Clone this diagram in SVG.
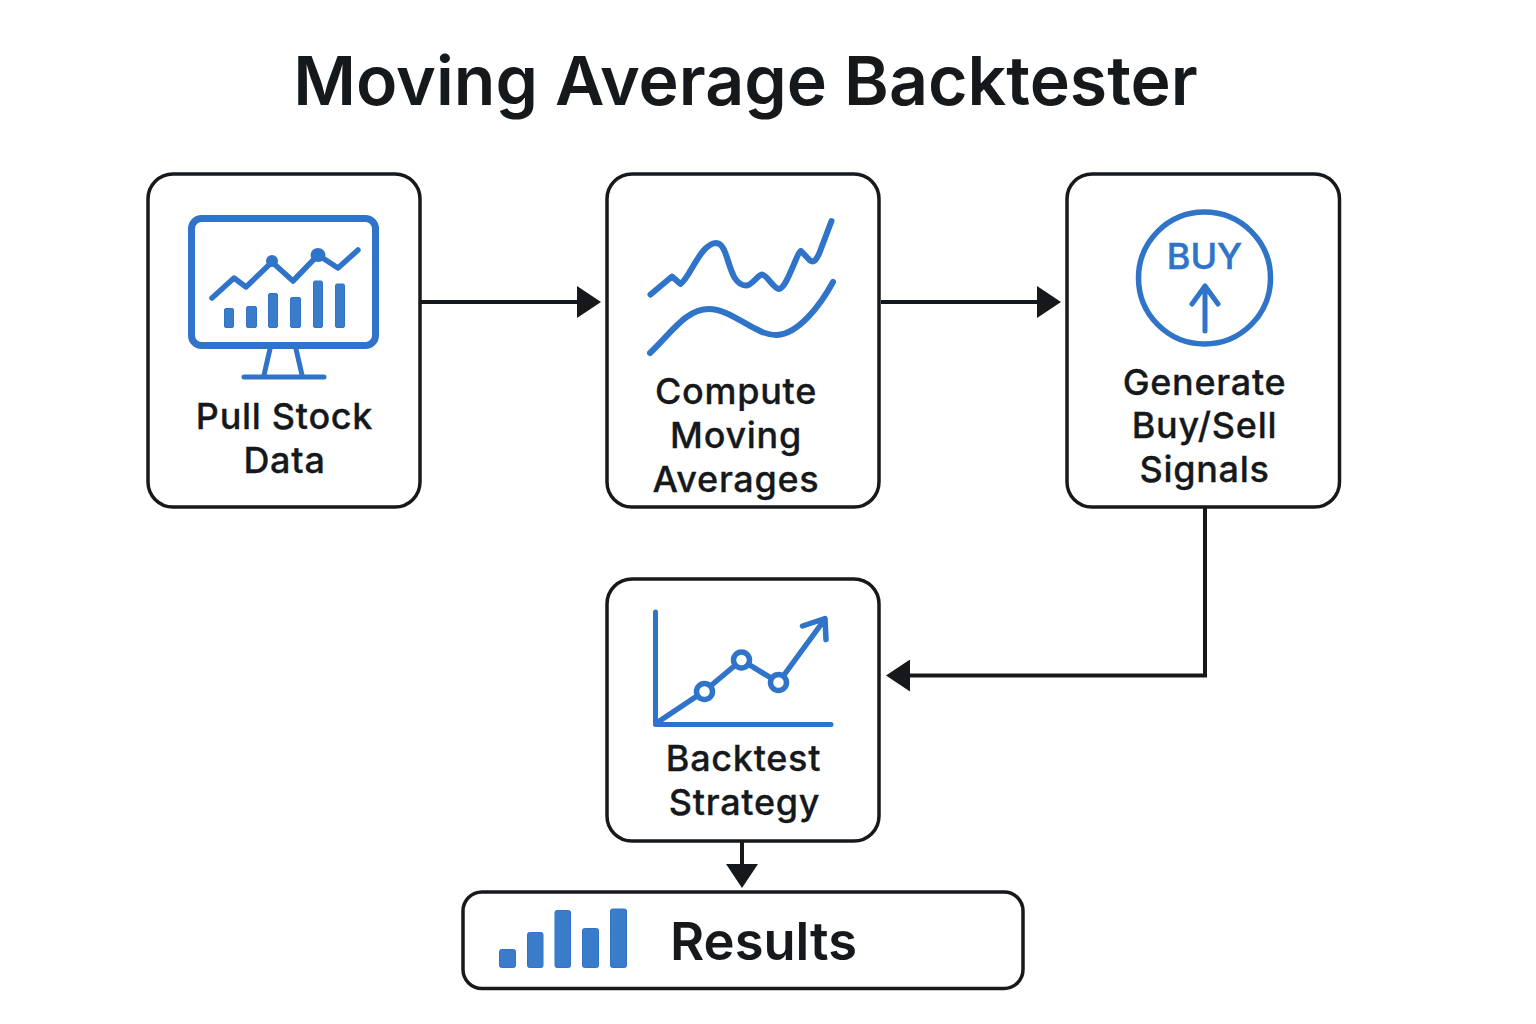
<svg xmlns="http://www.w3.org/2000/svg" width="1536" height="1024" viewBox="0 0 1536 1024">
<style>
text{font-family:Inter,"Noto Sans","Liberation Sans",sans-serif;fill:#16191c;text-anchor:middle}
.box{fill:#fff;stroke:#16191c;stroke-width:3.500}
.lbl{font-size:36px;font-weight:500;letter-spacing:.7px;stroke:#16191c;stroke-width:.3px}
.ln{fill:none;stroke:#2f74c8;stroke-linecap:round;stroke-linejoin:round}
.bar{fill:#3a7cc9;stroke:#2f74c8;stroke-width:1}
.con{fill:none;stroke:#16191c;stroke-width:4;marker-end:url(#ah)}
</style>
<defs>
<marker id="ah" markerUnits="userSpaceOnUse" viewBox="0 0 24 32" refX="0" refY="16" markerWidth="24" markerHeight="32" orient="auto"><path d="M0 0L24 16L0 32Z" fill="#16191c"/></marker>
</defs>
<rect width="1536" height="1024" fill="#fff"/>
<text id="title" x="745.500" y="105" font-size="68" font-weight="600">Moving Average Backtester</text>
<g id="connectors">
<path class="con" d="M421 302H577"/>
<path class="con" d="M881 302H1037"/>
<path class="con" d="M1205 508V675.500H910"/>
<path class="con" d="M742 842V864"/>
</g>
<g id="node-pull">
<rect class="box" x="148" y="174" width="272" height="333" rx="25"/>
<rect class="ln" x="191.500" y="218.500" width="184" height="127" rx="10" stroke-width="7"/>
<path class="ln" stroke-width="5" d="M270 349L264 375M296 349L302 375M244 377H324"/>
<path class="ln" stroke-width="5.500" d="M212 298L234 278L246 287L272 262L293 281L318 255L338 268L358 250"/>
<circle cx="272" cy="261" r="6" fill="#2f74c8"/><ellipse cx="318" cy="255" rx="7.500" ry="7" fill="#2f74c8"/>
<rect class="bar" x="224.500" y="308.500" width="9" height="19" rx="1.500"/>
<rect class="bar" x="246.500" y="306.500" width="10" height="21" rx="1.500"/>
<rect class="bar" x="268.500" y="293.500" width="9" height="34" rx="1.500"/>
<rect class="bar" x="290.500" y="297.500" width="10" height="30" rx="1.500"/>
<rect class="bar" x="313.500" y="281" width="9" height="46.500" rx="1.500"/>
<rect class="bar" x="335.500" y="284" width="9" height="43.500" rx="1.500"/>
<text class="lbl" x="284.500" y="429">Pull Stock</text>
<text class="lbl" x="284.500" y="473">Data</text>
</g>
<g id="node-compute">
<rect class="box" x="607" y="174" width="272" height="333" rx="25"/>
<path class="ln" stroke-width="6" d="M650.500 294.500L672 276.500L680.500 284C690 278 700 244 716 243C730 243 727 286 746.500 285.500C752 285 758 275 762 274.500C767 275 774 289 779 289C787 288 797 252 801 251L810 260.500C814 263 816 260 819 254L831.500 221"/>
<path class="ln" stroke-width="6" d="M650 353C672 332 686 309 709 309C732 309 756 336 777 335C798 334 820 306 833 282"/>
<text class="lbl" x="736" y="404">Compute</text>
<text class="lbl" x="736" y="448">Moving</text>
<text class="lbl" x="736" y="492">Averages</text>
</g>
<g id="node-generate">
<rect class="box" x="1067" y="174" width="272.500" height="333" rx="25"/>
<circle class="ln" cx="1204.500" cy="278" r="66" stroke-width="5.500"/>
<text x="1204.500" y="268.500" font-size="36" font-weight="500" style="fill:#2f74c8;stroke:#2f74c8;stroke-width:.5px">BUY</text>
<path class="ln" stroke-width="5" d="M1205 331V286M1192 304L1205 286L1218 304"/>
<text class="lbl" x="1204.500" y="394.500">Generate</text>
<text class="lbl" x="1204.500" y="438">Buy/Sell</text>
<text class="lbl" x="1204.500" y="482">Signals</text>
</g>
<g id="node-backtest">
<rect class="box" x="607" y="579" width="272" height="262" rx="25"/>
<path class="ln" stroke-width="5" d="M655.500 612V724.500H831"/>
<path class="ln" stroke-width="5.500" d="M658 722L704.500 691L741.500 660L778.500 682.500L825 619M802.500 626L825 618.500L826 639.500"/>
<circle class="ln" cx="704.500" cy="691.500" r="8" stroke-width="5.500" style="fill:#fff"/>
<circle class="ln" cx="741.500" cy="660" r="8" stroke-width="5.500" style="fill:#fff"/>
<circle class="ln" cx="778.500" cy="682.500" r="8" stroke-width="5.500" style="fill:#fff"/>
<text class="lbl" x="743.500" y="771">Backtest</text>
<text class="lbl" x="744.500" y="814.500">Strategy</text>
</g>
<g id="node-results">
<rect class="box" x="463" y="892" width="560" height="96.500" rx="19"/>
<rect class="bar" x="499.500" y="949.500" width="16" height="18" rx="2"/>
<rect class="bar" x="527.500" y="932.500" width="15.500" height="35" rx="2"/>
<rect class="bar" x="555" y="910.500" width="15.500" height="57" rx="2"/>
<rect class="bar" x="582.500" y="928.500" width="16" height="39" rx="2"/>
<rect class="bar" x="610.500" y="909" width="16" height="58.500" rx="2"/>
<text x="670" y="959.500" font-size="52.500" font-weight="600" style="text-anchor:start">Results</text>
</g>
</svg>
